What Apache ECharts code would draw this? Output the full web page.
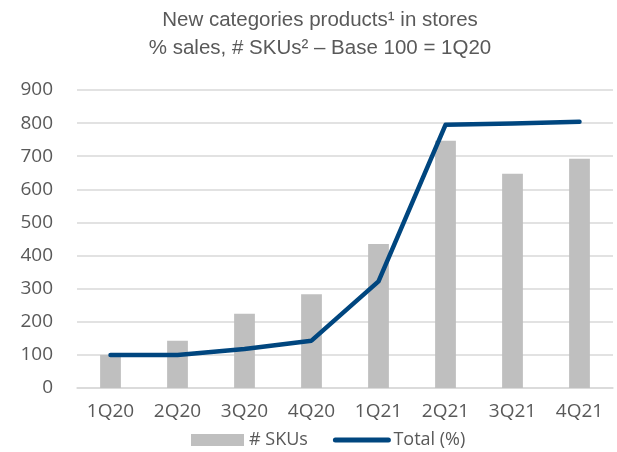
<!DOCTYPE html>
<html>
<head>
<meta charset="utf-8">
<script src="https://cdn.jsdelivr.net/npm/echarts@6/dist/echarts.min.js"></script>
<style>
  html, body { margin: 0; padding: 0; background: #fff; }
  #chart { width: 617px; height: 452px; }
</style>
</head>
<body>
<div id="chart"></div>
<script>
const quarters = ['1Q20', '2Q20', '3Q20', '4Q20', '1Q21', '2Q21', '3Q21', '4Q21'];
const skus = [100, 143, 224, 283, 435, 747, 647, 692];
const totalPct = [100, 100, 118, 143, 322, 795, 799, 804];
const yTicks = { min: 0, max: 900, interval: 100 };

const labelColor = '#595959';
const gridColor = '#D9D9D9';
const lineColor = '#00467F';

const chart = echarts.init(document.getElementById('chart'));
chart.setOption({
  animation: false,
  title: {
    text: 'New categories products\u00B9 in stores\n% sales, # SKUs\u00B2 \u2013 Base 100 = 1Q20',
    left: 315,
    top: 1,
    textAlign: 'center',
    textStyle: {
      fontFamily: 'Liberation Sans',
      fontSize: 20.5,
      fontWeight: 'normal',
      color: labelColor,
      lineHeight: 28,
    },
  },
  grid: {
    top: 90,
    left: 77,
    right: 4,
    bottom: 64,
  },
  legend: {
    left: 186,
    top: 426,
    itemWidth: 53,
    itemHeight: 12,
    itemGap: 25,
    textStyle: {
      fontFamily: 'Open Sans',
      fontSize: 18,
      color: labelColor,
    },
    data: [
      { name: '# SKUs', icon: 'rect' },
      {
        name: 'Total (%)',
        icon: 'inherit',
        itemStyle: { opacity: 0 },
        lineStyle: { width: 5, cap: 'round', color: lineColor },
      },
    ],
  },
  xAxis: {
    type: 'category',
    data: quarters,
    axisLine: { show: true, lineStyle: { color: gridColor, width: 1.5 } },
    axisTick: { show: false },
    axisLabel: {
      margin: 14,
      fontFamily: 'Open Sans',
      fontSize: 19,
      color: labelColor,
    },
  },
  yAxis: {
    type: 'value',
    min: yTicks.min,
    max: yTicks.max,
    interval: yTicks.interval,
    axisLine: { show: false },
    axisTick: { show: false },
    axisLabel: {
      margin: 24,
      fontFamily: 'Open Sans',
      fontSize: 19,
      color: labelColor,
    },
    splitLine: { lineStyle: { color: gridColor, width: 1.5 } },
  },
  series: [
    {
      name: '# SKUs',
      type: 'bar',
      data: skus,
      barWidth: '31%',
      itemStyle: { color: '#BFBFBF' },
    },
    {
      name: 'Total (%)',
      type: 'line',
      data: totalPct,
      symbol: 'none',
      lineStyle: { color: lineColor, width: 4.5, cap: 'round', join: 'round' },
      itemStyle: { color: lineColor },
    },
  ],
});
</script>
</body>
</html>
